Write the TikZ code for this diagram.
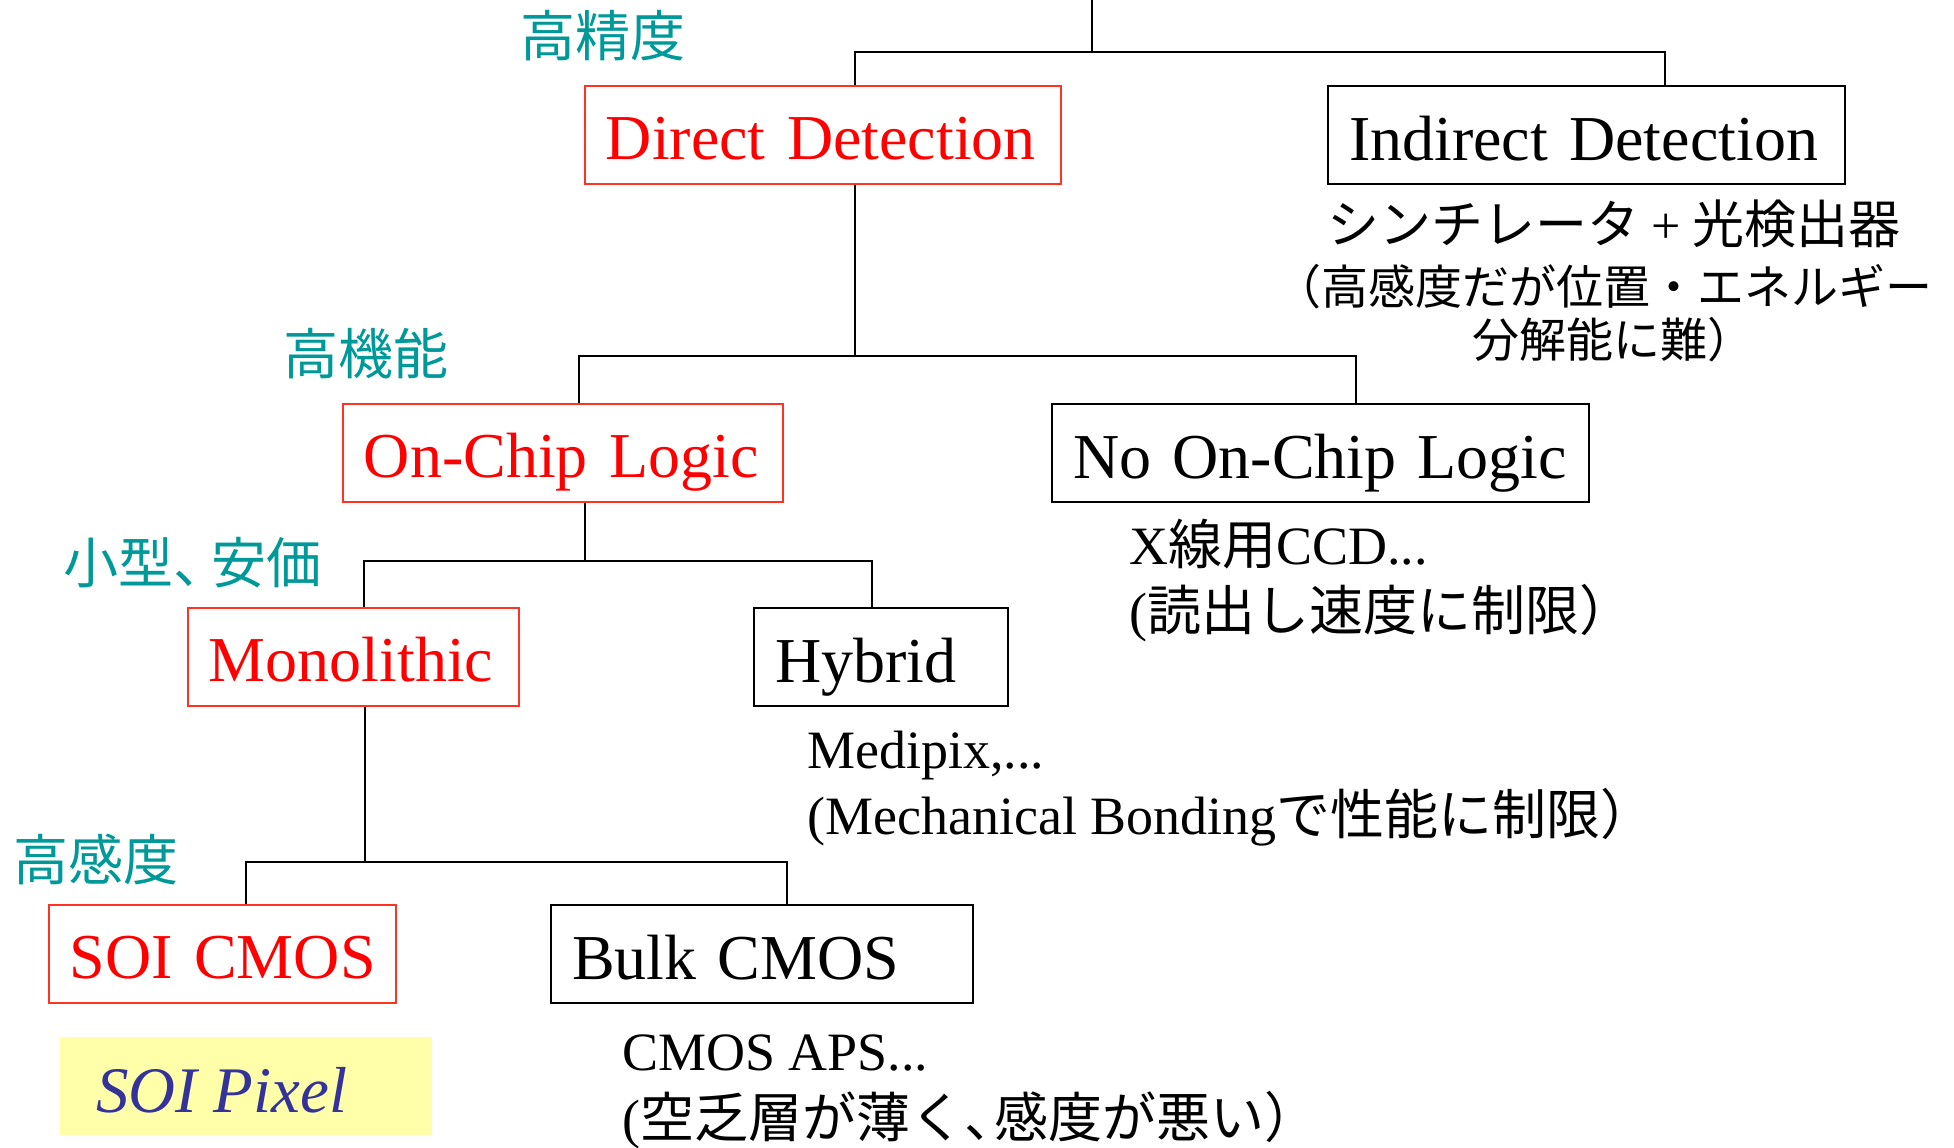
\documentclass[tikz,border=0pt]{standalone}
\usepackage{fontspec}
\setmainfont{Liberation Serif}
\newfontfamily\jp{Noto Sans CJK JP}
\usetikzlibrary{calc}
\definecolor{boxred}{RGB}{255,51,34}
\definecolor{tealjp}{RGB}{0,153,153}
\definecolor{pixyellow}{RGB}{255,255,170}
\definecolor{pixblue}{RGB}{51,51,153}
\begin{document}
\begin{tikzpicture}[x=0.5pt,y=-0.5pt,
  nbox/.style={rectangle, anchor=north west, inner xsep=10.5pt, inner ysep=0pt, text height=37pt, text depth=12pt, align=left, font=\fontsize{32}{38}\selectfont},
  redbox/.style={nbox, draw=boxred, line width=0.8pt, text=red},
  blackbox/.style={nbox, draw=black, line width=1pt},
  conn/.style={draw=black, line width=0.9pt},
  tlabel/.style={anchor=base west, inner sep=0pt, text=tealjp, font=\jp\fontsize{27.5}{30}\selectfont},
  desc/.style={anchor=base west, inner sep=0pt, font=\fontsize{27}{30}\selectfont},
]
\useasboundingbox (0,0) rectangle (1954,1147);

% boxes
\node[redbox, text width=217pt] (dd) at (584,85) {\mbox{Direct Detection}};
\node[blackbox, text width=237.5pt] (idd) at (1327,85) {\mbox{Indirect Detection}};
\node[redbox, text width=199pt] (ocl) at (342,403) {\mbox{On-Chip Logic}};
\node[blackbox, text width=247.5pt] (nocl) at (1051,403) {\mbox{No On-Chip Logic}};
\node[redbox, text width=144.5pt] (mono) at (187,607) {\mbox{Monolithic}};
\node[blackbox, text width=106pt] (hyb) at (753,607) {\mbox{Hybrid}};
\node[redbox, text width=152.5pt] (soi) at (48,904) {\mbox{SOI CMOS}};
\node[blackbox, text width=190pt] (bulk) at (550,904) {\mbox{Bulk CMOS}};

% SOI Pixel
\node[fill=pixyellow, anchor=north west, minimum width=186pt, minimum height=49pt, inner sep=0pt] (pix) at (60,1037) {};
\node[anchor=base west, inner sep=0pt, text=pixblue, font=\fontsize{32.5}{36}\selectfont\itshape] (pixt) at (96,1112) {SOI Pixel};

% teal labels
\node[tlabel] (l1) at (520,56) {高精度};
\node[tlabel] (l2) at (283,374) {高機能};
\node[tlabel] (l3) at (63,583) {小型、\kern-0.3em 安価};
\node[tlabel] (l4) at (13,880) {高感度};

% descriptions
\node[anchor=base west, inner sep=0pt, font=\jp\fontsize{26}{30}\selectfont] (id1) at (1327,243) {シンチレータ {\rmfamily +} 光検出器};
\node[anchor=base west, inner sep=0pt, font=\jp\fontsize{23.5}{26}\selectfont] (id2) at (1274,304) {（高感度だが位置・エネルギー};
\node[anchor=base west, inner sep=0pt, font=\jp\fontsize{23.5}{26}\selectfont] (id3) at (1472,357) {分解能に難）};
\node[desc] (nd1) at (1129,564) {X{\jp 線用}CCD...};
\node[desc] (nd2) at (1129,630) {({\jp 読出し速度に制限）}};
\node[desc] (hd1) at (807,768) {Medipix,...};
\node[desc] (hd2) at (807,834) {(Mechanical Bonding{\jp で性能に制限）}};
\node[desc] (bd1) at (622,1070) {CMOS APS...};
\node[desc] (bd2) at (622,1137) {({\jp 空乏層が薄く、\kern-0.45em 感度が悪い）}};

% connectors
\coordinate (root) at (1092,0);
\coordinate (j1) at (1092,52);
\coordinate (j2) at (855,356);
\coordinate (j3) at (585,561);
\coordinate (j4) at (365,862);
\draw[conn] (root) -- (j1);
\draw[conn] ($(dd.north west)+(271,0)$) |- (j1) -| ($(idd.north west)+(338,0)$);
\draw[conn] ($(dd.south west)+(271,0)$) -- (j2);
\draw[conn] ($(ocl.north west)+(237,0)$) |- (j2) -| ($(nocl.north west)+(305,0)$);
\draw[conn] ($(ocl.south west)+(243,0)$) -- (j3);
\draw[conn] ($(mono.north west)+(177,0)$) |- (j3) -| ($(hyb.north west)+(119,0)$);
\draw[conn] ($(mono.south west)+(178,0)$) -- (j4);
\draw[conn] ($(soi.north west)+(198,0)$) |- (j4) -| ($(bulk.north west)+(237,0)$);
\end{tikzpicture}
\end{document}
